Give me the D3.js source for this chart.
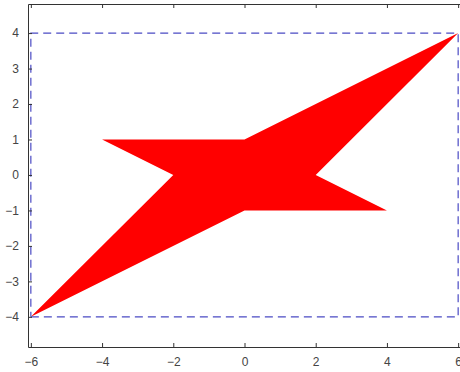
<!DOCTYPE html>
<html>
<head>
<meta charset="utf-8">
<script src="https://cdn.jsdelivr.net/npm/d3@7"></script>
<style>
  body { margin: 0; background: #fff; }
  .tick text { font-family: "Liberation Sans", Arial, sans-serif; font-size: 12px; fill: #444; }
  .domain, .tick line { stroke: #333; }
</style>
</head>
<body>
<svg id="chart" width="460" height="372"></svg>
<script>
  // data
  shapeX = [-6, -2, -4, 0, 6, 2, 4, 0];
  shapeY = [-4, 0, 1, 1, 4, 0, -1, -1];
  boxX = [-6, 6, 6, -6, -6];
  boxY = [-4, -4, 4, 4, -4];
  xTicks = [-6, -4, -2, 0, 2, 4, 6];
  yTicks = [-4, -3, -2, -1, 0, 1, 2, 3, 4];

  chart = d3.select("#chart");

  margin = { top: 4, right: -1, bottom: 25, left: 28 };
  width = 460;
  height = 372;

  x = d3.scaleLinear().domain([-6.08, 6.08]).range([margin.left, width - margin.right]);
  y = d3.scaleLinear().domain([-4.85, 4.82]).range([height - margin.bottom, margin.top]);

  // red polygon
  chart.append("polygon")
    .attr("points", shapeX.map((d, i) => x(d) + "," + y(shapeY[i])).join(" "))
    .style("fill", "#ff0000")
    .style("stroke", "none");

  // dashed box
  line = d3.line().x(d => x(d[0])).y(d => y(d[1]));
  chart.append("path")
    .attr("d", line(boxX.map((d, i) => [d, boxY[i]])))
    .style("fill", "none")
    .style("stroke", "#4b4bc4")
    .style("stroke-width", 1.2)
    .style("stroke-dasharray", "8,5");

  // axes
  chart.append("g")
    .attr("transform", "translate(0," + (height - margin.bottom) + ")")
    .call(d3.axisBottom(x).tickValues(xTicks).tickSize(-4).tickPadding(10).tickSizeOuter(0));

  chart.append("g")
    .attr("transform", "translate(0," + margin.top + ")")
    .call(d3.axisTop(x).tickValues(xTicks).tickSize(-4).tickFormat("").tickSizeOuter(0));

  chart.append("g")
    .attr("transform", "translate(" + margin.left + ",0)")
    .call(d3.axisLeft(y).tickValues(yTicks).tickSize(-4).tickPadding(9).tickSizeOuter(0));
</script>
</body>
</html>
